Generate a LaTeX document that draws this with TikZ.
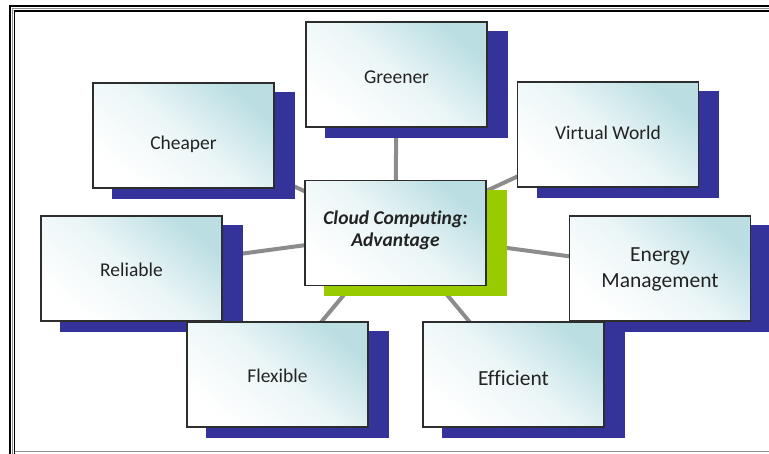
\documentclass[tikz,border=0pt]{standalone}
\usepackage{fontspec}
\setmainfont{Carlito}[Ligatures=NoCommon]
\pgfdeclarelayer{bg}
\pgfdeclarelayer{shd}
\pgfsetlayers{bg,shd,main}
\definecolor{tealone}{RGB}{186,222,226}
\definecolor{shblue}{RGB}{51,51,153}
\definecolor{shgreen}{RGB}{153,204,0}
\definecolor{linegray}{RGB}{140,140,140}
\definecolor{bordergray}{RGB}{45,45,45}
\definecolor{txt}{RGB}{35,35,35}
\begin{document}
\begin{tikzpicture}[x=1pt,y=-1pt,
  card/.style={draw=bordergray, line width=1.3pt, shading=axis,
    top color=tealone, bottom color=white, middle color=tealone!28!white, shading angle=-40,
    minimum width=181pt, minimum height=105pt, inner sep=0pt},
  lbl/.style={align=center, text=txt, inner sep=0pt, font=\fontsize{19.5}{24}\selectfont},
  bigtext/.style={font=\fontsize{21.5}{25.5}\selectfont},
  centertext/.style={font=\fontsize{19.5}{22}\selectfont\bfseries\itshape},
  conn/.style={draw=linegray, line width=4pt},
  blueshadow/.style={fill=shblue},
  greenshadow/.style={fill=shgreen},
  framebk/.style={draw=black, line width=1.6pt},
  framegr/.style={draw=black!45, line width=1pt}
]
\useasboundingbox (0,0) rectangle (769,454);
\begin{pgfonlayer}{bg}
\fill[white] (0,0) rectangle (769,454);
\end{pgfonlayer}

% frame
\draw[framebk] (10,460) -- (10,6) -- (780,6);
\draw[framegr] (12.4,460) -- (12.4,8.4) -- (780,8.4);
\draw[framebk] (14.5,460) -- (14.5,11) -- (780,11);
\draw[framegr] (14.5,451) -- (780,451);

% boxes
\node[card] (ctr) at (395.5,233) {};
\node[card] (gre) at (396.5,74.5) {};
\node[card] (che) at (183.5,135.5) {};
\node[card] (vir) at (608,134.5) {};
\node[card] (rel) at (131.5,268.5) {};
\node[card] (ene) at (660,268.5) {};
\node[card] (fle) at (277.5,374.5) {};
\node[card] (eff) at (513.5,374.5) {};

% labels
\node[lbl, centertext] (ctrt) at ([shift={(0,-3)}]ctr.center) {Cloud Computing:\\Advantage};
\node[lbl] (gret) at ([shift={(0,3)}]gre.center) {Greener};
\node[lbl] (chet) at ([shift={(0,8.5)}]che.center) {Cheaper};
\node[lbl] (virt) at ([shift={(0,-2)}]vir.center) {Virtual World};
\node[lbl] (relt) at ([shift={(0,1)}]rel.center) {Reliable};
\node[lbl, bigtext] (enet) at ([shift={(0,1)}]ene.center) {Energy\\Management};
\node[lbl] (flet) at ([shift={(0,1)}]fle.center) {Flexible};
\node[lbl, bigtext] (efft) at ([shift={(0,4)}]eff.center) {Efficient};

% shadows
\begin{pgfonlayer}{shd}
  \foreach \n in {gre,che,vir,rel,ene,fle,eff}{
    \fill[blueshadow] ([shift={(20,10)}]\n.north west) rectangle ([shift={(20,10)}]\n.south east);
  }
  \fill[greenshadow] ([shift={(20,10)}]ctr.north west) rectangle ([shift={(20,10)}]ctr.south east);
\end{pgfonlayer}

% connectors
\begin{pgfonlayer}{bg}
  \foreach \n in {gre,che,vir,rel,ene,fle,eff}{
    \draw[conn] (ctr.center) -- (\n.center);
  }
\end{pgfonlayer}
\end{tikzpicture}
\end{document}
